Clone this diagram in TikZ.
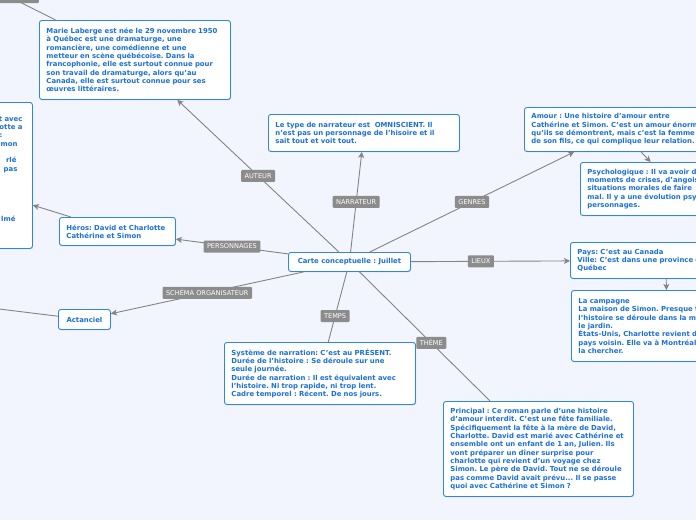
\documentclass[tikz,border=0pt]{standalone}
\usepackage{fontspec}
\setmainfont{DejaVu Sans}
\usepackage{tikz}
\usetikzlibrary{arrows.meta, shadows}
\frenchspacing
\definecolor{fond}{RGB}{242,245,253}
\definecolor{bordure}{RGB}{45,135,228}
\definecolor{texte}{RGB}{28,112,214}
\definecolor{gris}{RGB}{140,140,140}
\definecolor{trait}{RGB}{132,132,132}
\tikzset{
  boite/.style={draw=bordure, fill=white, line width=0.9pt, rounded corners=2.5pt, text=texte,
    font=\bfseries\fontsize{6.9}{8.33}\selectfont, align=left, inner xsep=7pt, inner ysep=2pt,
    anchor=north west, drop shadow={shadow xshift=0.7pt, shadow yshift=-1pt, opacity=0.18}},
  etiq/.style={fill=gris, text=white, rounded corners=1pt, font=\fontsize{6.6}{7}\selectfont,
    inner xsep=3.5pt, inner ysep=0pt, minimum height=12pt},
  lien/.style={draw=trait, line width=0.9pt},
  fleche/.style={lien, -{Stealth[length=6pt, width=6pt, inset=1.5pt]}}
}
\begin{document}
\begin{tikzpicture}[x=1pt, y=-1pt]
        \path[use as bounding box, fill=fond] (0,0) rectangle (696,520);
        \clip (0,0) rectangle (696,520);
        \node[boite, text width=177pt, minimum height=79pt] (marie) at (39,20)
          {Marie Laberge est née le 29 novembre 1950\\à Québec est une dramaturge, une\\romancière, une comédienne et une\\metteur en scène québécoise. Dans la\\francophonie, elle est surtout connue pour\\son travail de dramaturge, alors qu'au\\Canada, elle est surtout connue pour ses\\œuvres littéraires.};
        \node[boite, text width=177pt, minimum height=37pt] (narr) at (268,114)
          {Le type de narrateur est\ \ OMNISCIENT. Il\\n'est pas un personnage de l'hisoire et il\\sait tout et voit tout.};
        \node[boite, text width=177pt, minimum height=44pt] (amour) at (524,107)
          {Amour : Une histoire d'amour entre\\Cathérine et Simon. C'est un amour énorme\\qu'ils se démontrent, mais c'est la femme\\de son fils, ce qui complique leur relation.};
        \node[boite, text width=177pt, minimum height=53pt] (psycho) at (580,162)
          {Psychologique : Il va avoir des\\moments de crises, d'angoisse,\\situations morales de faire\\mal. Il y a une évolution psychologique\\personnages.};
        \node[boite, text width=177pt, minimum height=36pt] (pays) at (570,242)
          {Pays: C'est au Canada\\Ville: C'est dans une province du\\Québec};
        \node[boite, text width=177pt, minimum height=71pt] (campagne) at (571,290)
          {La campagne\\La maison de Simon. Presque toute\\l'histoire se déroule dans la maison et\\le jardin.\\États-Unis, Charlotte revient d'un\\pays voisin. Elle va à Montréal\\la chercher.};
        \node[boite, align=center, minimum width=122pt, minimum height=19pt] (centre) at (288,252)
          {Carte conceptuelle : Juillet};
        \node[boite, text width=102pt, minimum height=28pt] (heros) at (59,217)
          {Héros: David et Charlotte\\Cathérine et Simon};
        \node[boite, align=center, minimum width=52pt, minimum height=20pt] (actan) at (58,309)
          {Actanciel};
        \node[boite, text width=177pt, minimum height=62pt] (temps) at (224,342)
          {Système de narration: C'est au PRÉSENT.\\Durée de l'histoire : Se déroule sur une\\seule journée.\\Durée de narration : Il est équivalent avec\\l'histoire. Ni trop rapide, ni trop lent.\\Cadre temporel : Récent. De nos jours.};
        \node[boite, text width=176pt, minimum height=95pt] (theme) at (443,401)
          {Principal : Ce roman parle d'une histoire\\d'amour interdit. C'est une fête familiale.\\Spécifiquement la fête à la mère de David,\\Charlotte. David est marié avec Cathérine et\\ensemble ont un enfant de 1 an, Julien. Ils\\vont préparer un dîner surprise pour\\charlotte qui revient d'un voyage chez\\Simon. Le père de David. Tout ne se déroule\\pas comme David avait prévu... Il se passe\\quoi avec Cathérine et Simon ?};
        \node[boite, align=right, text width=177pt, minimum height=146pt] (gauche) at (-159,102)
          {\mbox{}\\t avec\hspace{3pt}\mbox{}\\otte a\hspace{3pt}\mbox{}\\:\hspace{23pt}\mbox{}\\mon\hspace{8pt}\mbox{}\\\mbox{}\\rlé\hspace{9pt}\mbox{}\\pas\hspace{8pt}\mbox{}\\\mbox{}\\\mbox{}\\\mbox{}\\\mbox{}\\\mbox{}\\lmé\hspace{10pt}\mbox{}\\\mbox{}\\\mbox{}};
        \coordinate (hautgauche) at (-36,-26);
        \coordinate (actgauche) at (-40,304.2);
        \draw[fleche] (centre) -- node[etiq]{AUTEUR} (marie);
        \draw[fleche] (centre) -- node[etiq]{NARRATEUR} (narr);
        \draw[fleche] (centre) -- node[etiq]{GENRES} (amour);
        \draw[fleche] (centre) -- node[etiq, pos=0.44]{LIEUX} (pays);
        \draw[lien] (centre) -- node[etiq, pos=0.63]{TEMPS} (temps);
        \draw[lien] (centre) -- node[etiq, pos=0.55]{THÈME} (theme);
        \draw[fleche] (centre) -- node[etiq]{PERSONNAGES} (heros);
        \draw[fleche] (centre) -- node[etiq]{SCHÉMA ORGANISATEUR} (actan);
        \draw[fleche] (heros) -- (gauche);
        \draw[fleche] (amour) -- (psycho);
        \draw[fleche] (pays) -- (campagne);
        \draw[lien] (actan) -- (actgauche);
        \draw[lien] (marie) -- node[etiq, minimum width=58pt]{} (hautgauche);
\end{tikzpicture}
\end{document}
